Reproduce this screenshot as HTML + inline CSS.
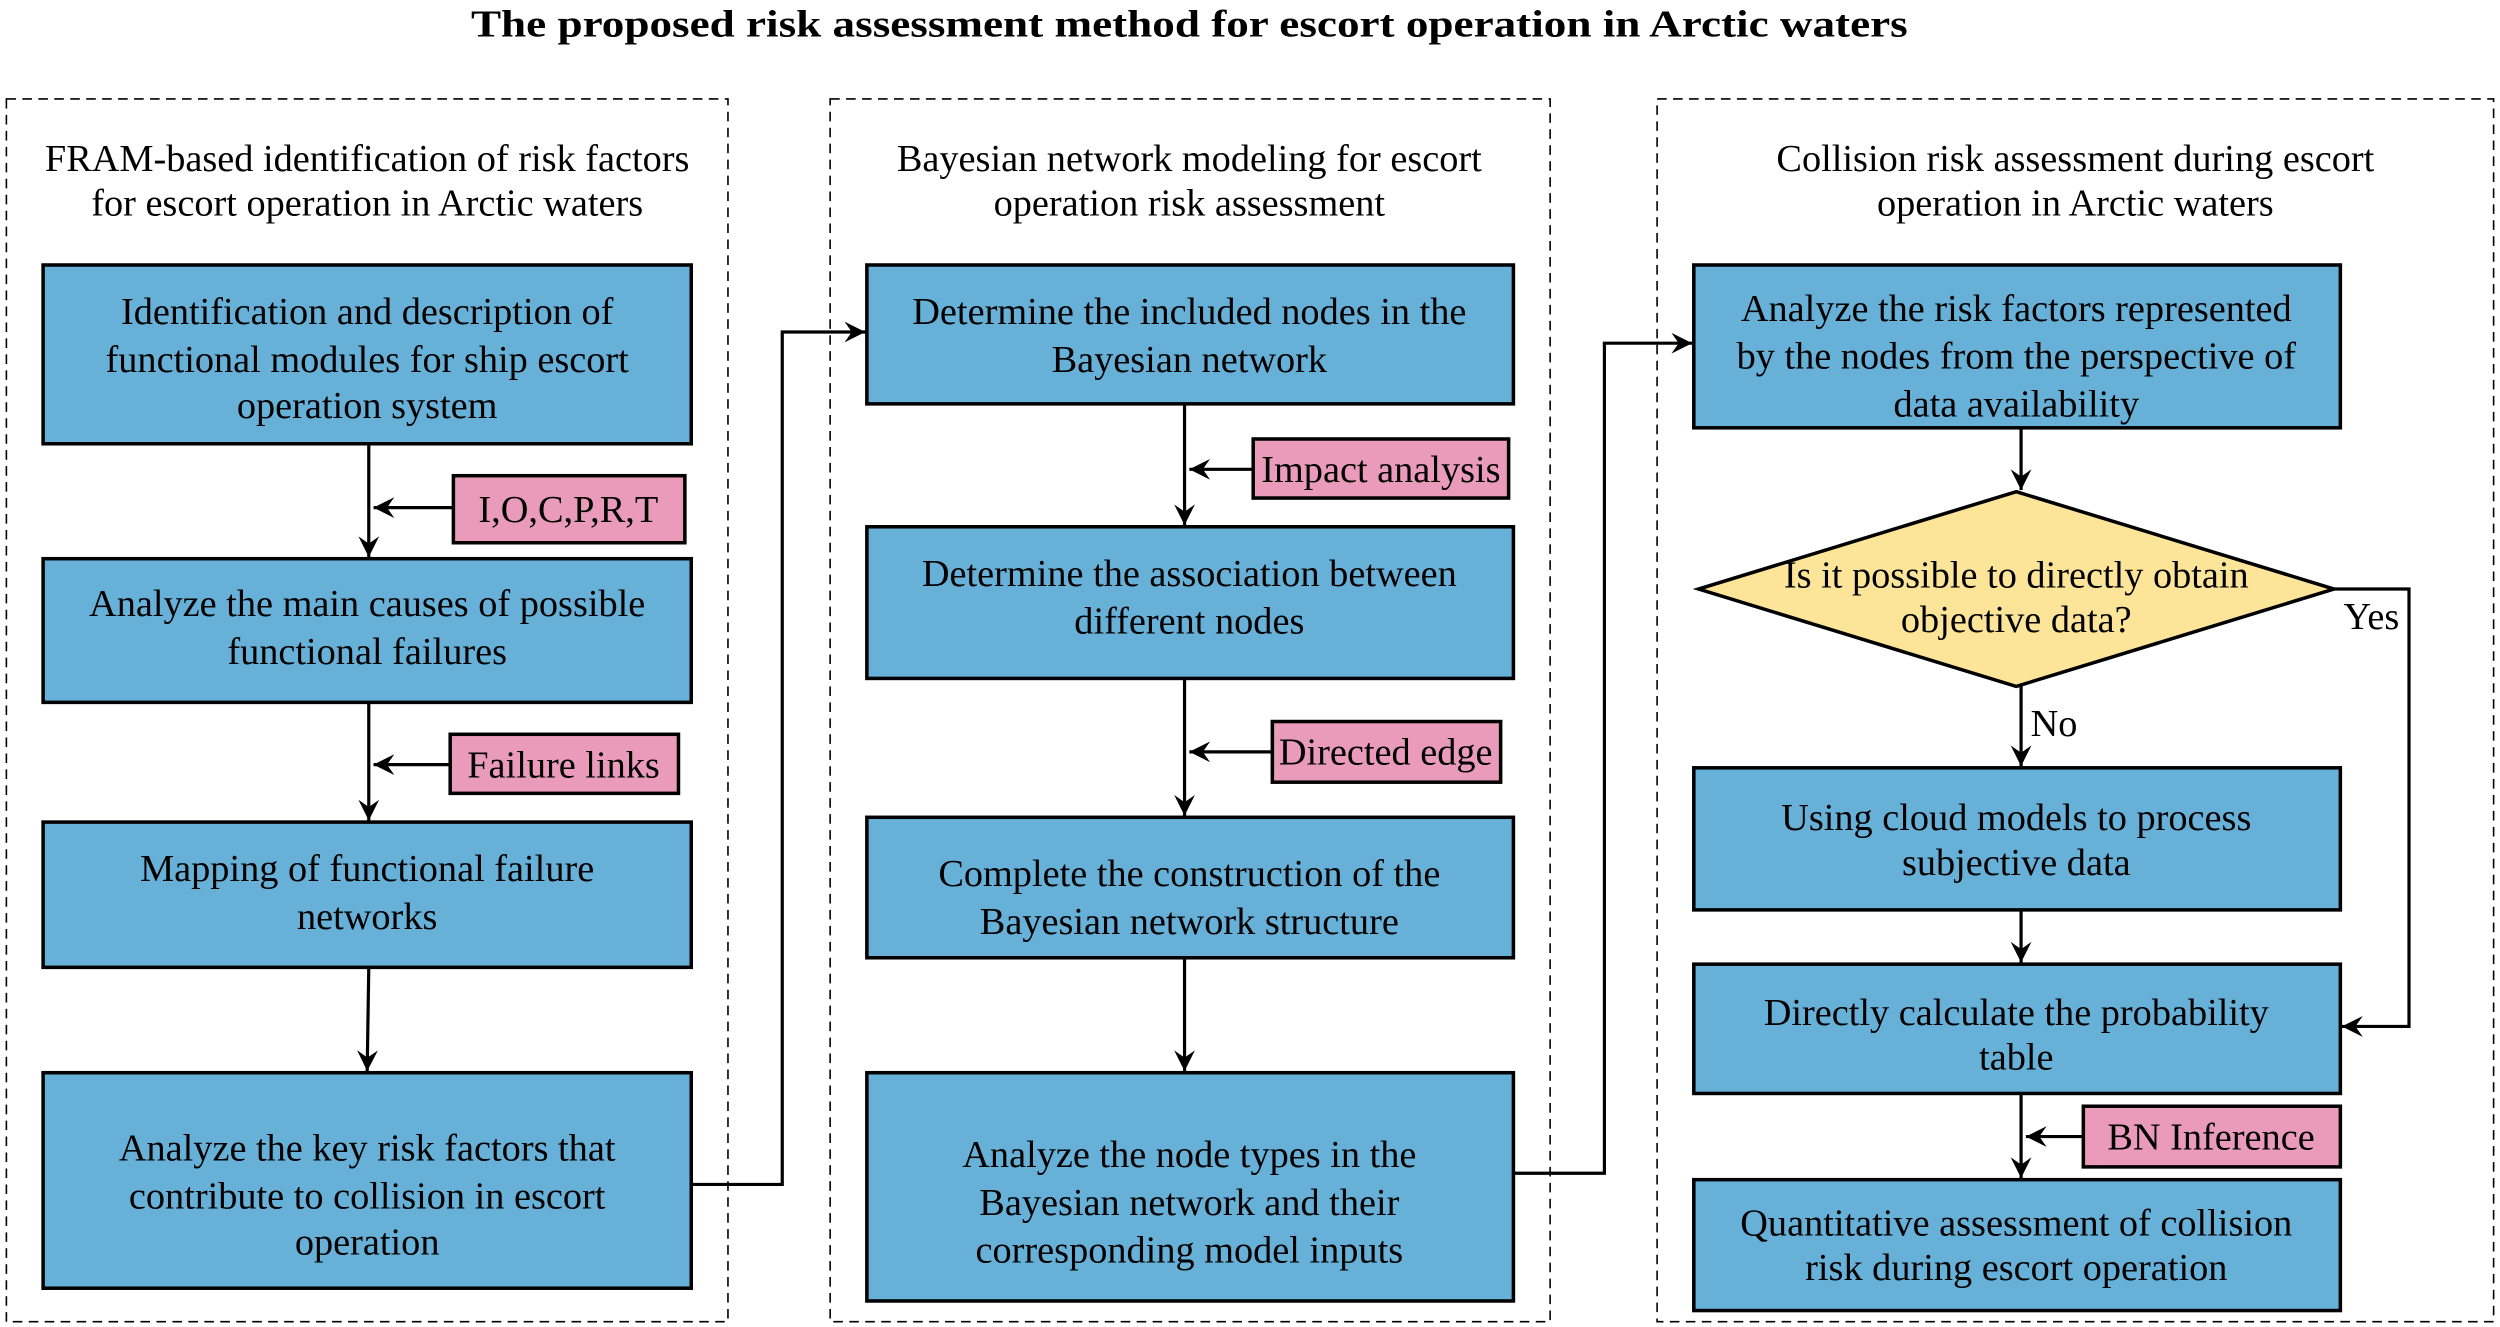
<!DOCTYPE html>
<html><head><meta charset="utf-8"><style>
html,body{margin:0;padding:0;background:#fff;}
svg{display:block;}
text{font-family:"Liberation Serif",serif;fill:#000;}
</style></head><body>
<svg width="2500" height="1327" viewBox="0 0 1566 831.3" preserveAspectRatio="none" xmlns="http://www.w3.org/2000/svg">
<defs>
<marker id="a" markerWidth="13" markerHeight="13" refX="10" refY="5" orient="auto" markerUnits="userSpaceOnUse" viewBox="0 0 10 10">
<path d="M0,0 L10,5 L0,10 L3.5,5 z" fill="#000"/>
</marker>
</defs>
<text x="745" y="23" font-size="24" font-weight="bold" text-anchor="middle" textLength="900" lengthAdjust="spacingAndGlyphs">The proposed risk assessment method for escort operation in Arctic waters</text>

<g fill="none" stroke="#000" stroke-width="1" stroke-dasharray="6,4">
<rect x="4" y="62" width="452" height="766"/>
<rect x="520" y="62" width="451" height="766"/>
<rect x="1038" y="62" width="524" height="766"/>
</g>

<g font-size="24" text-anchor="middle">
<text x="230" y="107">FRAM-based identification of risk factors</text>
<text x="230" y="135">for escort operation in Arctic waters</text>
<text x="745" y="107">Bayesian network modeling for escort</text>
<text x="745" y="135">operation risk assessment</text>
<text x="1300" y="107">Collision risk assessment during escort</text>
<text x="1300" y="135">operation in Arctic waters</text>
</g>

<g fill="#67b0d7" stroke="#000" stroke-width="2.2">
<rect x="27" y="166" width="406" height="112"/>
<rect x="27" y="350" width="406" height="90"/>
<rect x="27" y="515" width="406" height="91"/>
<rect x="27" y="672" width="406" height="135"/>
<rect x="543" y="166" width="405" height="87"/>
<rect x="543" y="330" width="405" height="95"/>
<rect x="543" y="512" width="405" height="88"/>
<rect x="543" y="672" width="405" height="143"/>
<rect x="1061" y="166" width="405" height="102"/>
<rect x="1061" y="481" width="405" height="89"/>
<rect x="1061" y="604" width="405" height="81"/>
<rect x="1061" y="739" width="405" height="82"/>
</g>
<g fill="#e99bb9" stroke="#000" stroke-width="2.2">
<rect x="284" y="298" width="145" height="42"/>
<rect x="282" y="460" width="143" height="37"/>
<rect x="785" y="275" width="160" height="37"/>
<rect x="797" y="452" width="143" height="38"/>
<rect x="1305" y="693" width="161" height="38"/>
</g>
<polygon points="1263,308 1462,369 1263,430 1064,369" fill="#fce598" stroke="#000" stroke-width="2.2"/>

<g fill="none" stroke="#000" stroke-width="2" marker-end="url(#a)">
<line x1="231" y1="278" x2="231" y2="349"/>
<line x1="284" y1="318" x2="234" y2="318"/>
<line x1="231" y1="440" x2="231" y2="514"/>
<line x1="282" y1="479" x2="234" y2="479"/>
<line x1="231" y1="606" x2="230" y2="671"/>
<polyline points="433,742 490,742 490,208 542,208"/>
<line x1="742" y1="253" x2="742" y2="329"/>
<line x1="785" y1="294" x2="745" y2="294"/>
<line x1="742" y1="425" x2="742" y2="511"/>
<line x1="797" y1="471" x2="745" y2="471"/>
<line x1="742" y1="600" x2="742" y2="671"/>
<polyline points="948,735 1005,735 1005,215 1060,215"/>
<line x1="1266" y1="268" x2="1266" y2="307"/>
<line x1="1266" y1="430" x2="1266" y2="480"/>
<polyline points="1462,369 1509,369 1509,643 1467,643"/>
<line x1="1266" y1="570" x2="1266" y2="603"/>
<line x1="1266" y1="685" x2="1266" y2="738"/>
<line x1="1305" y1="712" x2="1269" y2="712"/>
</g>

<g font-size="24" text-anchor="middle">
<text x="230" y="203">Identification and description of</text>
<text x="230" y="233">functional modules for ship escort</text>
<text x="230" y="262">operation system</text>
<text x="230" y="386">Analyze the main causes of possible</text>
<text x="230" y="416">functional failures</text>
<text x="230" y="552">Mapping of functional failure</text>
<text x="230" y="582">networks</text>
<text x="230" y="727">Analyze the key risk factors that</text>
<text x="230" y="757">contribute to collision in escort</text>
<text x="230" y="786">operation</text>

<text x="745" y="203">Determine the included nodes in the</text>
<text x="745" y="233">Bayesian network</text>
<text x="745" y="367">Determine the association between</text>
<text x="745" y="397">different nodes</text>
<text x="745" y="555">Complete the construction of the</text>
<text x="745" y="585">Bayesian network structure</text>
<text x="745" y="731">Analyze the node types in the</text>
<text x="745" y="761">Bayesian network and their</text>
<text x="745" y="791">corresponding model inputs</text>

<text x="1263" y="201">Analyze the risk factors represented</text>
<text x="1263" y="231">by the nodes from the perspective of</text>
<text x="1263" y="261">data availability</text>
<text x="1263" y="368">Is it possible to directly obtain</text>
<text x="1263" y="396">objective data?</text>
<text x="1263" y="520">Using cloud models to process</text>
<text x="1263" y="548">subjective data</text>
<text x="1263" y="642">Directly calculate the probability</text>
<text x="1263" y="670">table</text>
<text x="1263" y="774">Quantitative assessment of collision</text>
<text x="1263" y="802">risk during escort operation</text>

<text x="356" y="327">I,O,C,P,R,T</text>
<text x="353" y="487">Failure links</text>
<text x="865" y="302">Impact analysis</text>
<text x="868" y="479">Directed edge</text>
<text x="1385" y="720">BN Inference</text>
</g>
<g font-size="24">
<text x="1468" y="394">Yes</text>
<text x="1272" y="461">No</text>
</g>
</svg>
</body></html>
